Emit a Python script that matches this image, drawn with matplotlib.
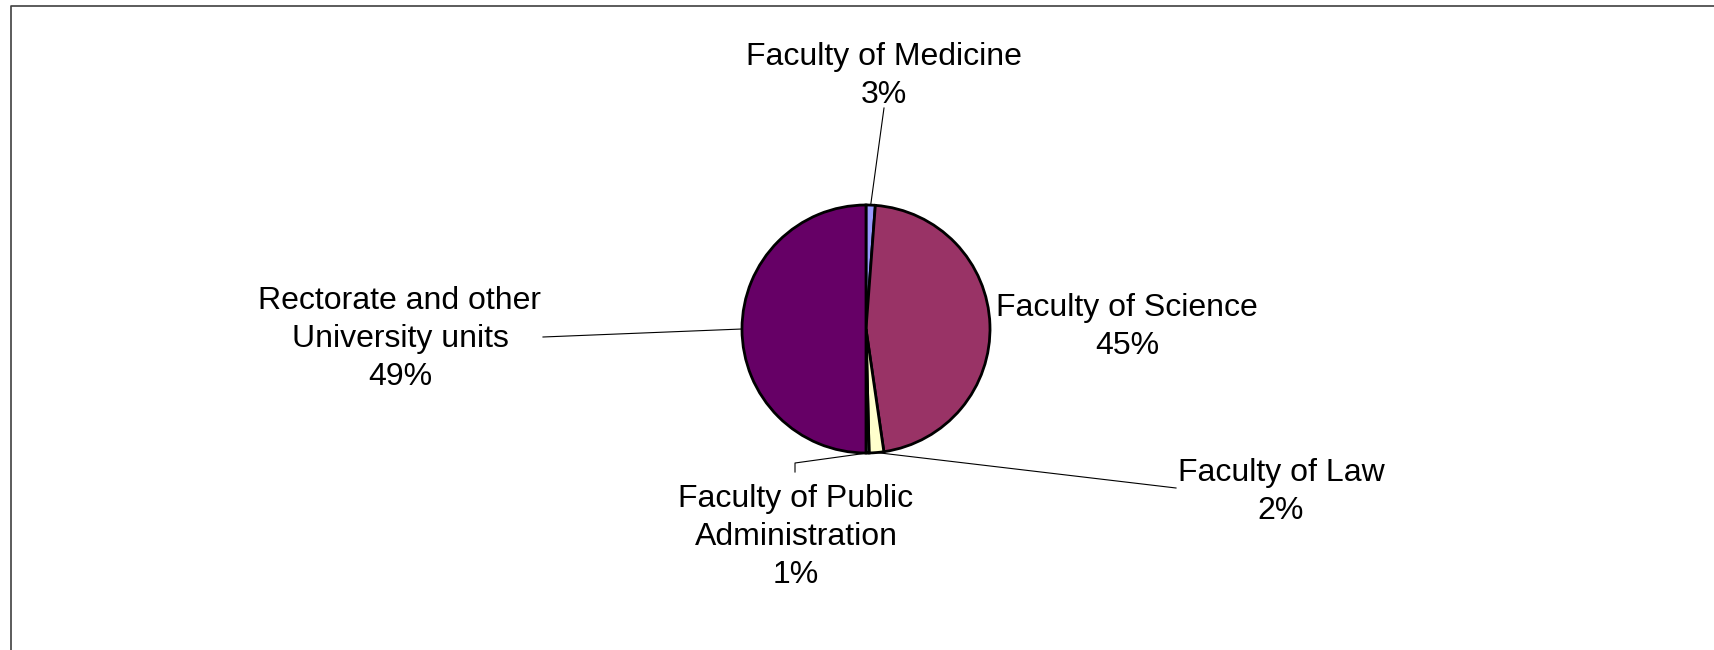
import numpy as np
import matplotlib
matplotlib.use("Agg")
import matplotlib.pyplot as plt

# slice sizes as drawn, clockwise from 12 o'clock
units = ["Faculty of Medicine", "Faculty of Science", "Faculty of Law",
         "Faculty of Public\nAdministration", "Rectorate and other\nUniversity units"]
shares = [1.2, 46.5, 1.9, 0.4, 50.0]
pct_labels = ["3%", "45%", "2%", "1%", "49%"]
colors = ["#9999FF", "#993366", "#FFFFCC", "#CCFFFF", "#660066"]

plt.rcParams['font.family'] = ['Liberation Sans', 'DejaVu Sans']

W, H = 1715, 650
fig = plt.figure(figsize=(W / 100, H / 100), dpi=100)
ax = fig.add_axes([0, 0, 1, 1])

cx, cy, r = 866, 321, 124
wedges, _ = ax.pie(shares, colors=colors, startangle=90, counterclock=False,
                   center=(cx, cy), radius=r,
                   wedgeprops=dict(edgecolor="black", linewidth=2.0))

# label block centres and leader-line end points (pixel space, y up)
label_pos = [(884, 574), (1127, 323), (1281, 158), (796, 113), (400, 311)]
leader_end = [[(884, 542)], None, [(1176, 162)], [(795, 187), (795, 178)], [(543, 313)]]

for w, name, pct, pos, ends in zip(wedges, units, pct_labels, label_pos, leader_end):
    ax.text(pos[0], pos[1], name + "\n" + pct, ha="center", va="center",
            multialignment="center", fontsize=23, linespacing=1.36, color="black")
    if ends is None:
        continue
    mid = np.deg2rad((w.theta1 + w.theta2) / 2)
    xs = [cx + r * np.cos(mid)] + [p[0] for p in ends]
    ys = [cy + r * np.sin(mid)] + [p[1] for p in ends]
    ax.plot(xs, ys, color="black", lw=0.8)

# chart-area border (runs off the right and bottom edges)
ax.plot([11, 11, W], [0, H - 5.5, H - 5.5], color="#404040", lw=1.2, clip_on=False)

ax.set_xlim(0, W)
ax.set_ylim(0, H)
ax.set_aspect("equal")
ax.axis("off")

fig.savefig("out.png", dpi=100)
